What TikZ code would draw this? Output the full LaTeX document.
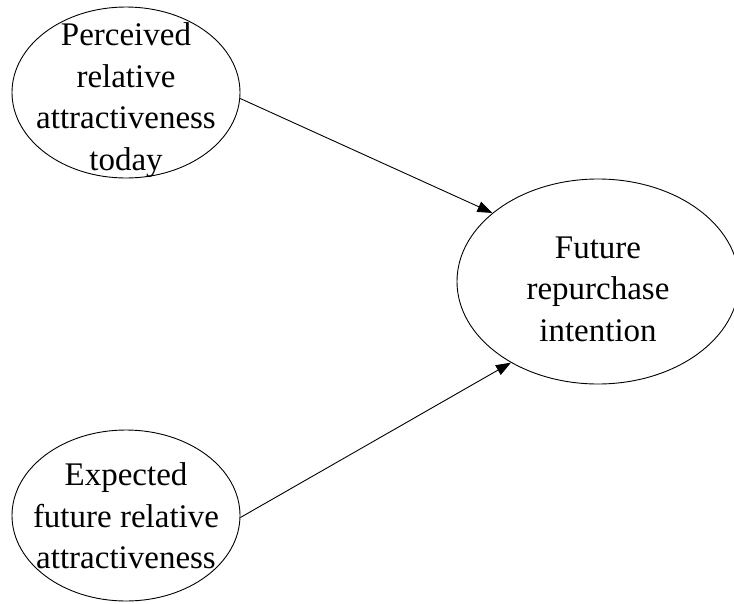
\documentclass[tikz,border=0pt]{standalone}
\usepackage{fontspec}
\setmainfont{Liberation Serif}
\usetikzlibrary{shapes.geometric,arrows.meta}

\begin{document}
\begin{tikzpicture}[x=1pt,y=-1pt,
		oval/.style={draw,ellipse,line width=0.9pt,inner sep=0pt},
		lbl/.style={align=center,font=\fontsize{33}{41.5}\selectfont},
		link/.style={line width=0.9pt,-{Triangle[length=15pt,width=11pt]}}]
				\useasboundingbox (0,0) rectangle (734,603);
				\node[oval,minimum width=228pt,minimum height=171pt] (perc) at (126,92.5) {};
				\node[oval,minimum width=228pt,minimum height=171pt] (expt) at (126,515.5) {};
				\node[oval,minimum width=282pt,minimum height=205pt] (fut) at (598,281.5) {};
				\node[lbl] (perctxt) at (126,100) {Perceived\\relative\\attractiveness\\today};
				\node[lbl] (expttxt) at (126,516) {Expected\\future relative\\attractiveness};
				\node[lbl] (futtxt) at (598,289) {Future\\repurchase\\intention};
				\draw[link] (perc.-3.3) -- (fut.147.2);
				\draw[link] (expt.-1.8) -- (fut.223.1);
\end{tikzpicture}
\end{document}
